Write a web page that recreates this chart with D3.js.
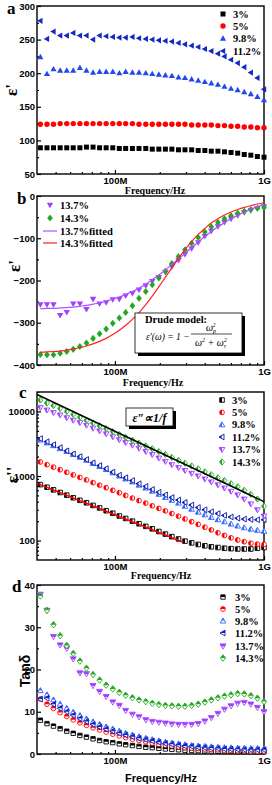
<!DOCTYPE html>
<html>
<head>
<meta charset="utf-8">
<script src="https://cdn.jsdelivr.net/npm/d3@7"></script>
<style>
  html, body { margin: 0; padding: 0; background: #fff; }
  svg { display: block; }
  .tick text { font-family: "Liberation Sans", Arial, sans-serif; font-weight: bold; font-size: 9.5px; fill: #000; }
  .tick line { stroke: #000; stroke-width: 1.2; }
  .serif { font-family: "Liberation Serif", "Times New Roman", serif; font-weight: bold; }
  .sans { font-family: "Liberation Sans", Arial, sans-serif; font-weight: bold; }
</style>
</head>
<body>
<svg id="chart" width="272" height="785"></svg>
<script>
(function () {
  "use strict";

  // frequency points, MHz
  const FREQ_MHZ = [31.6, 35, 38.7, 42.9, 47.5, 52.5, 58.2, 64.4, 71.3, 78.9, 87.3, 96.7, 107, 118, 131, 145, 161, 178,
    197, 218, 241, 267, 295, 327, 362, 401, 443, 491, 543, 601, 666, 737, 816, 903, 1000];
  const X_MAJOR = [100, 1000];
  const X_LABELS = ["100M", "1G"];
  const X_MINOR = [40, 50, 60, 70, 80, 90, 200, 300, 400, 500, 600, 700, 800, 900];

  // panel a: real permittivity
  const A_LABELS = ["3%", "5%", "9.8%", "11.2%"];
  const A_3 = [89, 89, 89, 89, 89, 89, 89, 90, 90, 89, 89, 89, 88, 88, 88, 88, 88, 87, 87, 87, 87, 86, 86, 86, 85, 85, 84, 84, 83, 82, 81, 79, 78, 76, 75];
  const A_5 = [124, 124, 124, 125, 125, 125, 125, 125, 125, 125, 125, 125, 125, 125, 125, 124, 124, 124, 124, 124, 124, 124, 124, 123, 123, 123, 123, 122, 122, 121, 121, 120, 120, 119, 119];
  const A_98 = [224, 199, 206, 204, 204, 204, 208, 204, 201, 202, 202, 202, 200, 202, 201, 201, 200, 199, 198, 197, 196, 194, 193, 191, 189, 187, 185, 183, 180, 177, 175, 172, 169, 165, 160];
  const A_112 = [278, 251, 262, 256, 256, 260, 256, 256, 250, 256, 255, 254, 253, 253, 254, 252, 251, 250, 249, 248, 247, 245, 243, 241, 239, 236, 233, 229, 225, 220, 215, 209, 201, 193, 176];
  const A_TICKS = [50, 100, 150, 200, 250, 300];

  // panel b: negative permittivity and Drude fits
  const B_LABELS = ["13.7%", "14.3%", "13.7%fitted", "14.3%fitted"];
  const B_137 = [-257, -257, -257, -282, -275, -255, -255, -268, -244, -255, -252, -245, -244, -236, -230, -222, -212, -202, -192, -180, -167, -152, -138, -124, -110, -95, -83, -72, -62, -54, -46, -39, -34, -29, -25];
  const B_143 = [-375, -376, -376, -372, -368, -363, -356, -348, -337, -326, -315, -301, -289, -276, -260, -242, -226, -210, -194, -178, -160, -143, -127, -112, -98, -85, -73, -63, -54, -47, -41, -36, -32, -29, -27];
  const B_137_FIT = [-267, -266, -266, -265, -264, -263, -261, -259, -256, -253, -249, -244, -239, -233, -226, -218, -209, -198, -187, -175, -162, -149, -136, -122, -109, -96, -84, -73, -63, -54, -46, -38, -31, -25, -20];
  const B_143_FIT = [-370, -369, -368, -367, -365, -362, -359, -355, -350, -344, -337, -328, -318, -306, -292, -276, -257, -237, -215, -192, -170, -148, -127, -108, -91, -77, -64, -54, -45, -38, -32, -27, -23, -19, -16];
  const B_TICKS = [-400, -300, -200, -100, 0];

  // panel c: imaginary permittivity (log)
  const CD_LABELS = ["3%", "5%", "9.8%", "11.2%", "13.7%", "14.3%"];
  const C_3 = [735, 670, 610, 555, 505, 460, 420, 385, 350, 320, 290, 265, 240, 220, 200, 182, 166, 152, 138, 126, 115, 106, 98, 92, 87, 83, 80, 78, 76, 75, 74, 74, 74, 76, 78];
  const C_5 = [1650, 1500, 1370, 1250, 1140, 1040, 950, 870, 790, 720, 660, 600, 550, 500, 455, 415, 380, 345, 315, 288, 262, 238, 216, 196, 178, 161, 146, 132, 120, 110, 102, 96, 91, 88, 87];
  const C_98 = [3600, 3250, 2950, 2650, 2400, 2150, 1950, 1750, 1560, 1400, 1260, 1120, 1000, 900, 810, 720, 650, 580, 520, 465, 420, 380, 340, 305, 275, 250, 228, 210, 195, 180, 168, 158, 150, 144, 139];
  const C_112 = [3800, 3400, 3050, 2750, 2450, 2200, 2000, 1800, 1600, 1450, 1300, 1150, 1030, 940, 850, 760, 690, 620, 560, 510, 465, 425, 390, 355, 325, 300, 280, 262, 245, 232, 222, 215, 212, 210, 210];
  const C_137 = [11500, 10500, 9600, 8800, 8000, 7300, 6700, 6100, 5500, 5000, 4500, 4050, 3650, 3300, 3000, 2700, 2400, 2150, 1900, 1680, 1500, 1350, 1220, 1100, 1000, 900, 810, 730, 650, 580, 510, 440, 370, 300, 240];
  const C_143 = [15000, 13500, 12300, 11100, 10000, 9000, 8100, 7300, 6600, 6000, 5400, 4850, 4400, 3950, 3580, 3230, 2920, 2640, 2380, 2150, 1940, 1750, 1580, 1430, 1290, 1160, 1050, 940, 850, 760, 680, 600, 520, 440, 340];
  const C_LINE_F = [30, 1000];
  const C_LINE_V = [18300, 400];
  const C_RED_F = [30, 287];
  const C_RED_V = [770, 94];
  const C_TICKS = [100, 1000, 10000];
  const C_MINOR = [60, 70, 80, 90, 200, 300, 400, 500, 600, 700, 800, 900, 2000, 3000, 4000, 5000, 6000, 7000, 8000, 9000, 20000];

  // panel d: loss tangent
  const D_3 = [8.0, 7.2, 6.6, 6.0, 5.4, 4.9, 4.4, 4.0, 3.6, 3.2, 2.9, 2.7, 2.4, 2.2, 2.0, 1.8, 1.6, 1.5, 1.35, 1.2, 1.1, 1.0, 0.9, 0.85, 0.8, 0.75, 0.7, 0.65, 0.6, 0.6, 0.55, 0.55, 0.5, 0.5, 0.5];
  const D_5 = [13.0, 11.8, 10.8, 9.8, 8.9, 8.1, 7.4, 6.8, 6.2, 5.7, 5.2, 4.7, 4.3, 3.9, 3.5, 3.2, 2.9, 2.6, 2.3, 2.1, 1.9, 1.7, 1.5, 1.4, 1.3, 1.2, 1.1, 1.0, 0.9, 0.85, 0.8, 0.8, 0.75, 0.7, 0.7];
  const D_98 = [15.0, 14.0, 12.8, 11.8, 10.8, 9.9, 9.1, 8.3, 7.6, 7.0, 6.4, 5.9, 5.4, 4.9, 4.5, 4.1, 3.7, 3.4, 3.1, 2.8, 2.6, 2.4, 2.2, 2.0, 1.9, 1.8, 1.7, 1.6, 1.5, 1.45, 1.4, 1.35, 1.3, 1.3, 1.3];
  const D_112 = [13.0, 13.2, 11.8, 10.8, 10.0, 9.2, 8.4, 7.7, 7.0, 6.4, 5.9, 5.4, 4.9, 4.5, 4.1, 3.7, 3.4, 3.1, 2.8, 2.5, 2.3, 2.1, 1.9, 1.8, 1.6, 1.5, 1.4, 1.3, 1.2, 1.15, 1.1, 1.05, 1.0, 1.0, 1.0];
  const D_137 = [37.8, 34.0, 27.8, 25.8, 25.0, 22.5, 19.2, 19.0, 16.2, 14.8, 13.6, 12.3, 11.5, 10.3, 9.4, 8.8, 8.1, 7.7, 7.5, 7.3, 7.1, 7.0, 7.0, 7.0, 7.2, 7.8, 8.6, 9.6, 10.6, 11.4, 12.0, 12.2, 11.8, 11.0, 10.0];
  const D_143 = [37.4, 34.0, 30.6, 28.0, 25.7, 23.8, 22.0, 20.3, 18.8, 17.5, 16.3, 15.4, 14.6, 13.9, 13.3, 12.8, 12.4, 12.0, 11.7, 11.5, 11.4, 11.3, 11.3, 11.5, 11.8, 12.3, 12.8, 13.3, 13.7, 14.0, 14.3, 14.2, 13.8, 13.2, 12.4];
  const D_TICKS = [0, 10, 20, 30, 40];

  const BLACK = "#000000";
  const RED = "#ff0000";
  const BLUE = "#2448f0";
  const NAVY = "#1528c0";
  const PURPLE = "#a040ff";
  const GREEN = "#22a822";

  const X0 = 37;
  const X1 = 264;
  const svg = d3.select("#chart");
  const x = d3.scaleLog().domain([30, 1000]).range([X0, X1]);

  const defs = svg.append("defs");
  defs.append("clipPath").attr("id", "halfLeft").attr("clipPathUnits", "objectBoundingBox")
    .append("rect").attr("x", 0).attr("y", 0).attr("width", 0.5).attr("height", 1);
  defs.append("clipPath").attr("id", "halfTop").attr("clipPathUnits", "objectBoundingBox")
    .append("rect").attr("x", 0).attr("y", 0).attr("width", 1).attr("height", 0.5);

  function shapePath(type, r) {
    switch (type) {
      case "square": return `M${-r},${-r}h${2 * r}v${2 * r}h${-2 * r}Z`;
      case "circle": return `M${-r},0a${r},${r} 0 1,0 ${2 * r},0a${r},${r} 0 1,0 ${-2 * r},0Z`;
      case "up": return `M0,${-r * 1.2}L${r * 1.15},${r * 0.8}L${-r * 1.15},${r * 0.8}Z`;
      case "down": return `M0,${r * 1.2}L${r * 1.15},${-r * 0.8}L${-r * 1.15},${-r * 0.8}Z`;
      case "left": return `M${-r * 1.2},0L${r * 0.8},${-r * 1.15}L${r * 0.8},${r * 1.15}Z`;
      default: return `M0,${-r * 1.3}L${r * 1.05},0L0,${r * 1.3}L${-r * 1.05},0Z`;
    }
  }

  function marker(g, cx, cy, type, r, color, mode) {
    const d = shapePath(type, r);
    const t = `translate(${cx},${cy})`;
    if (mode === "solid") {
      g.append("path").attr("d", d).attr("transform", t).attr("fill", color);
      return;
    }
    g.append("path").attr("d", d).attr("transform", t)
      .attr("fill", "#fff").attr("stroke", color).attr("stroke-width", 0.9);
    g.append("path").attr("d", d).attr("transform", t)
      .attr("fill", color).attr("clip-path", `url(#${mode})`);
  }

  function drawSeries(g, y, values, type, r, color, mode) {
    values.forEach((v, i) => marker(g, x(FREQ_MHZ[i]), y(v), type, r, color, mode));
  }

  function drawFrame(g, y, top, bottom, ticks, minor, fmt) {
    g.append("rect").attr("x", X0).attr("y", top).attr("width", X1 - X0).attr("height", bottom - top)
      .attr("fill", "none").attr("stroke", "#000").attr("stroke-width", 1.4);

    const xa = g.append("g").attr("transform", `translate(0,${bottom})`)
      .call(d3.axisBottom(x).tickValues(X_MAJOR).tickFormat((d, i) => X_LABELS[i])
        .tickSizeInner(-4).tickSizeOuter(0).tickPadding(3));
    xa.select(".domain").remove();
    const xm = g.append("g").attr("transform", `translate(0,${bottom})`)
      .call(d3.axisBottom(x).tickValues(X_MINOR).tickFormat("").tickSizeInner(-2).tickSizeOuter(0));
    xm.select(".domain").remove();

    const ya = g.append("g").attr("transform", `translate(${X0},0)`)
      .call(d3.axisLeft(y).tickValues(ticks).tickFormat(fmt || d3.format("d"))
        .tickSizeInner(-4).tickSizeOuter(0).tickPadding(2));
    ya.select(".domain").remove();
    if (minor) {
      const ym = g.append("g").attr("transform", `translate(${X0},0)`)
        .call(d3.axisLeft(y).tickValues(minor).tickFormat("").tickSizeInner(-2).tickSizeOuter(0));
      ym.select(".domain").remove();
    }
  }

  function text(g, str, tx, ty, size, cls, anchor, rotate) {
    const t = g.append("text").attr("class", cls).attr("font-size", size)
      .attr("text-anchor", anchor || "start").text(str);
    if (rotate) t.attr("transform", `translate(${tx},${ty}) rotate(-90)`);
    else t.attr("x", tx).attr("y", ty);
    return t;
  }

  function legend(g, items, sx, tx, rows, size) {
    items.forEach((it, i) => {
      if (it.line) {
        g.append("line").attr("x1", sx - 7).attr("x2", sx + 7).attr("y1", rows[i]).attr("y2", rows[i])
          .attr("stroke", it.color).attr("stroke-width", 1.2);
      } else {
        marker(g, sx, rows[i], it.type, it.r, it.color, it.mode);
      }
      text(g, it.label, tx, rows[i] + 3.6, size, "serif");
    });
  }

  // ---------- panel a ----------
  const ga = svg.append("g");
  const ya = d3.scaleLinear().domain([50, 300]).range([174, 6]);
  drawFrame(ga, ya, 6, 174, A_TICKS, [75, 125, 175, 225, 275]);
  drawSeries(ga, ya, A_3, "square", 2.5, BLACK, "solid");
  drawSeries(ga, ya, A_5, "circle", 2.7, RED, "solid");
  drawSeries(ga, ya, A_98, "up", 2.7, BLUE, "solid");
  drawSeries(ga, ya, A_112, "left", 2.7, NAVY, "solid");
  legend(ga, [
    { label: A_LABELS[0], type: "square", r: 2.5, color: BLACK, mode: "solid" },
    { label: A_LABELS[1], type: "circle", r: 2.7, color: RED, mode: "solid" },
    { label: A_LABELS[2], type: "up", r: 2.7, color: BLUE, mode: "solid" },
    { label: A_LABELS[3], type: "left", r: 2.7, color: NAVY, mode: "solid" }
  ], 223, 233, [14, 26, 38.5, 51], 10.5);
  text(ga, "a", 7, 14, 17, "serif");
  text(ga, "ε'", 17, 90, 17, "serif", "middle", true);
  text(ga, "Frequency/Hz", 155, 194, 10, "serif", "middle");

  // ---------- panel b ----------
  const gb = svg.append("g");
  const yb = d3.scaleLinear().domain([-400, 0]).range([365, 196]);
  drawFrame(gb, yb, 196, 365, B_TICKS, [-350, -250, -150, -50]);
  drawSeries(gb, yb, B_137, "down", 2.8, PURPLE, "solid");
  drawSeries(gb, yb, B_143, "diamond", 2.7, GREEN, "solid");
  const fitLine = d3.line().curve(d3.curveMonotoneX).x((d, i) => x(FREQ_MHZ[i])).y((d) => yb(d));
  gb.append("path").attr("d", fitLine(B_137_FIT)).attr("fill", "none").attr("stroke", "#b050ff").attr("stroke-width", 1.2);
  gb.append("path").attr("d", fitLine(B_143_FIT)).attr("fill", "none").attr("stroke", "#ff2020").attr("stroke-width", 1.2);
  legend(gb, [
    { label: B_LABELS[0], type: "down", r: 2.8, color: PURPLE, mode: "solid" },
    { label: B_LABELS[1], type: "diamond", r: 2.7, color: GREEN, mode: "solid" },
    { label: B_LABELS[2], line: true, color: "#b050ff" },
    { label: B_LABELS[3], line: true, color: "#ff2020" }
  ], 50, 60, [205, 218, 231, 243], 10.5);
  // Drude model box
  gb.append("rect").attr("x", 138).attr("y", 316).attr("width", 107).attr("height", 40).attr("fill", "#000");
  gb.append("rect").attr("x", 135).attr("y", 313).attr("width", 107).attr("height", 40)
    .attr("fill", "#fff").attr("stroke", "#000").attr("stroke-width", 0.8);
  text(gb, "Drude model:", 145, 323, 10.5, "serif");
  const fs = "font-family:'Liberation Serif','Times New Roman',serif;font-style:italic;";
  gb.append("text").attr("x", 146).attr("y", 340).attr("font-size", 9.5).attr("style", fs)
    .text("ε′(ω) = 1 −");
  const num = gb.append("text").attr("x", 211).attr("y", 331).attr("font-size", 10).attr("style", fs).attr("text-anchor", "middle");
  num.append("tspan").text("ω");
  num.append("tspan").attr("font-size", 6).attr("dy", 2).text("p");
  num.append("tspan").attr("font-size", 6).attr("dx", -3.5).attr("dy", -6).text("2");
  gb.append("line").attr("x1", 191).attr("x2", 232).attr("y1", 334).attr("y2", 334).attr("stroke", "#000").attr("stroke-width", 0.7);
  const den = gb.append("text").attr("x", 211).attr("y", 346).attr("font-size", 10).attr("style", fs).attr("text-anchor", "middle");
  den.append("tspan").text("ω");
  den.append("tspan").attr("font-size", 6).attr("dy", -4).text("2");
  den.append("tspan").attr("dy", 4).text(" + ω");
  den.append("tspan").attr("font-size", 6).attr("dy", 2).text("τ");
  den.append("tspan").attr("font-size", 6).attr("dx", -2).attr("dy", -6).text("2");
  text(gb, "b", 17, 204, 17, "serif");
  text(gb, "ε'", 20, 266, 17, "serif", "middle", true);
  text(gb, "Frequency/Hz", 153, 386, 10, "serif", "middle");

  // ---------- panel c ----------
  const gc = svg.append("g");
  const yc = d3.scaleLog().domain([50, 20000]).range([560, 392]);
  drawFrame(gc, yc, 392, 560, C_TICKS, C_MINOR);
  drawSeries(gc, yc, C_3, "square", 2.3, BLACK, "halfLeft");
  drawSeries(gc, yc, C_5, "circle", 2.4, RED, "halfLeft");
  drawSeries(gc, yc, C_98, "up", 2.5, "#3366ff", "halfLeft");
  drawSeries(gc, yc, C_112, "left", 2.5, "#0a1aaa", "halfLeft");
  drawSeries(gc, yc, C_137, "down", 2.5, PURPLE, "halfLeft");
  drawSeries(gc, yc, C_143, "diamond", 2.4, GREEN, "halfLeft");
  const cLine = (fr, vals) => d3.line().x((d, i) => x(fr[i])).y((d) => yc(d))(vals);
  gc.append("path").attr("d", cLine(C_LINE_F, C_LINE_V)).attr("stroke", "#000").attr("stroke-width", 1.5).attr("fill", "none");
  gc.append("path").attr("d", cLine(C_RED_F, C_RED_V)).attr("stroke", "#ff0000").attr("stroke-width", 1.5).attr("fill", "none");
  legend(gc, [
    { label: CD_LABELS[0], type: "square", r: 2.3, color: BLACK, mode: "halfLeft" },
    { label: CD_LABELS[1], type: "circle", r: 2.4, color: RED, mode: "halfLeft" },
    { label: CD_LABELS[2], type: "up", r: 2.5, color: "#3366ff", mode: "halfLeft" },
    { label: CD_LABELS[3], type: "left", r: 2.5, color: "#0a1aaa", mode: "halfLeft" },
    { label: CD_LABELS[4], type: "down", r: 2.5, color: PURPLE, mode: "halfLeft" },
    { label: CD_LABELS[5], type: "diamond", r: 2.4, color: GREEN, mode: "halfLeft" }
  ], 222, 232, [400, 412.4, 424.8, 437, 449.5, 462], 10.5);
  gc.append("rect").attr("x", 129).attr("y", 411).attr("width", 47).attr("height", 18).attr("fill", "#000");
  gc.append("rect").attr("x", 126).attr("y", 408).attr("width", 47).attr("height", 18)
    .attr("fill", "#fff").attr("stroke", "#000").attr("stroke-width", 0.8);
  gc.append("text").attr("x", 149.5).attr("y", 421.5).attr("font-size", 12).attr("text-anchor", "middle")
    .attr("style", fs + "font-weight:bold;").text("ε″∝1/f");
  text(gc, "c", 19, 398, 17, "serif");
  text(gc, "ε''", 18, 475, 17, "serif", "middle", true);
  text(gc, "Frequency/Hz", 161, 579, 10, "serif", "middle");

  // ---------- panel d ----------
  const gd = svg.append("g");
  const yd = d3.scaleLinear().domain([0, 40]).range([754, 585]);
  drawFrame(gd, yd, 585, 754, D_TICKS, [5, 15, 25, 35]);
  drawSeries(gd, yd, D_3, "square", 2.2, BLACK, "halfTop");
  drawSeries(gd, yd, D_5, "circle", 2.4, RED, "halfTop");
  drawSeries(gd, yd, D_98, "up", 2.5, "#3060ff", "halfTop");
  drawSeries(gd, yd, D_112, "left", 2.5, "#1020c0", "halfTop");
  drawSeries(gd, yd, D_137, "down", 2.6, PURPLE, "halfTop");
  drawSeries(gd, yd, D_143, "diamond", 2.5, GREEN, "halfTop");
  legend(gd, [
    { label: CD_LABELS[0], type: "square", r: 2.2, color: BLACK, mode: "halfTop" },
    { label: CD_LABELS[1], type: "circle", r: 2.4, color: RED, mode: "halfTop" },
    { label: CD_LABELS[2], type: "up", r: 2.5, color: "#3060ff", mode: "halfTop" },
    { label: CD_LABELS[3], type: "left", r: 2.5, color: "#1020c0", mode: "halfTop" },
    { label: CD_LABELS[4], type: "down", r: 2.6, color: PURPLE, mode: "halfTop" },
    { label: CD_LABELS[5], type: "diamond", r: 2.5, color: GREEN, mode: "halfTop" }
  ], 223, 235, [597, 609, 621, 633, 646, 658], 10.5);
  text(gd, "d", 12, 592, 17, "serif");
  text(gd, "Tanδ", 30, 671, 14, "sans", "middle", true);
  text(gd, "Frequency/Hz", 161, 782, 11, "sans", "middle");
})();
</script>
</body>
</html>
